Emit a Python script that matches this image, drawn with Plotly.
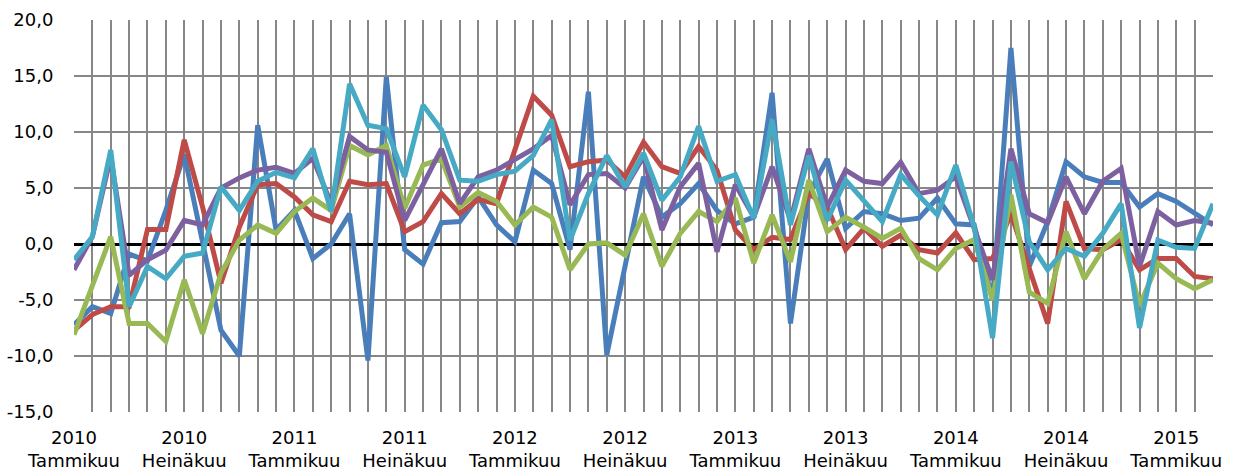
import plotly.graph_objects as go

years = [2010, 2011, 2012, 2013, 2014, 2015]
month_names = ["Tammikuu", "Helmikuu", "Maaliskuu", "Huhtikuu", "Toukokuu", "Kesäkuu",
               "Heinäkuu", "Elokuu", "Syyskuu", "Lokakuu", "Marraskuu", "Joulukuu"]
n_months = 63  # Jan 2010 .. Mar 2015
categories = [f"{2010 + k // 12}<br>{month_names[k % 12]}" for k in range(n_months)]

series1 = [-7.2, -5.6, -6.2, -0.9, -1.5, 3.0, 8.0, 0.3, -7.7, -10.0,
           10.6, 1.25, 3.0, -1.3, 0.0, 2.7, -10.4, 14.9, -0.5, -1.8,
           1.9, 2.0, 4.2, 1.7, 0.2, 6.6, 5.4, -0.5, 13.6, -9.9,
           -2.0, 6.0, 2.4, 3.6, 5.4, 3.0, 1.8, 2.4, 13.5, -7.1,
           4.5, 7.6, 1.4, 2.9, 2.7, 2.1, 2.3, 4.1, 1.8, 1.7,
           -5.0, 17.5, -2.0, 2.0, 7.35, 6.0, 5.5, 5.5, 3.3, 4.5,
           3.8, 2.7, 1.7]
series2 = [-7.7, -6.3, -5.6, -5.6, 1.3, 1.3, 9.3, 3.3, -3.5, 1.5,
           5.3, 5.4, 4.2, 2.6, 2.0, 5.6, 5.3, 5.4, 1.1, 2.0,
           4.5, 2.7, 4.0, 3.6, 8.4, 13.2, 11.5, 6.9, 7.35, 7.5,
           6.0, 9.1, 6.9, 6.3, 8.7, 6.6, 1.25, -0.5, 0.6, 0.4,
           4.5, 3.3, -0.5, 1.4, -0.2, 0.8, -0.5, -0.8, 1.0, -1.4,
           -1.3, 2.7, -2.2, -7.1, 3.8, -0.4, -0.5, 0.4, -2.3, -1.3,
           -1.3, -2.9, -3.1]
series3 = [-8.1, -3.8, 0.65, -7.1, -7.1, -8.7, -3.2, -8.0, -2.6, 0.35,
           1.7, 0.95, 2.9, 4.1, 3.0, 8.8, 7.95, 8.8, 3.2, 7.05,
           7.6, 3.3, 4.6, 3.8, 1.7, 3.3, 2.4, -2.3, 0.0, 0.1,
           -1.0, 2.7, -2.0, 0.95, 2.9, 2.0, 4.1, -1.7, 2.6, -1.6,
           5.7, 1.1, 2.4, 1.5, 0.5, 1.4, -1.3, -2.3, -0.4, 0.4,
           -5.0, 4.4, -4.3, -5.3, 1.1, -3.1, -0.5, 0.95, -5.5, -1.7,
           -3.1, -4.0, -3.2]
series4 = [-2.3, 0.65, 7.8, -2.8, -1.4, -0.55, 2.1, 1.7, 5.0, 5.9,
           6.6, 6.85, 6.3, 7.65, 3.6, 9.6, 8.4, 8.2, 2.1, 5.4,
           8.5, 3.6, 6.0, 6.6, 7.5, 8.5, 9.7, 3.5, 6.2, 6.3,
           5.0, 7.8, 1.25, 5.1, 7.2, -0.7, 5.3, 2.4, 6.9, 2.1,
           8.5, 3.3, 6.6, 5.6, 5.4, 7.3, 4.5, 4.8, 6.0, 1.5,
           -3.2, 8.5, 2.7, 1.9, 6.0, 2.7, 5.6, 6.75, -2.0, 2.9,
           1.7, 2.1, 1.85]
series5 = [-1.4, 0.65, 8.4, -5.6, -2.0, -3.1, -1.1, -0.8, 5.1, 3.0,
           5.6, 6.4, 5.9, 8.5, 2.9, 14.3, 10.6, 10.3, 6.0, 12.4,
           10.2, 5.7, 5.6, 6.2, 6.5, 7.9, 11.1, 0.35, 4.5, 7.9,
           5.1, 8.1, 3.9, 6.0, 10.5, 5.6, 6.2, 2.3, 11.1, 1.7,
           7.9, 2.1, 5.7, 3.9, 2.0, 6.2, 4.3, 2.6, 7.05, 1.5,
           -8.4, 7.35, 0.2, -2.3, -0.4, -1.1, 0.95, 3.6, -7.5, 0.35,
           -0.3, -0.4, 3.6]

y_ticks = [-15, -10, -5, 0, 5, 10, 15, 20]
y_ticktext = [f"{v:.1f}".replace(".", ",") for v in y_ticks]

colors = ["#4A7EBB", "#BE4B48", "#98B954", "#7D60A0", "#46AAC5"]
all_series = [series1, series2, series3, series4, series5]

x = list(range(n_months))
fig = go.Figure()
for s, c in zip(all_series, colors):
    fig.add_trace(go.Scatter(x=x, y=s, mode="lines",
                             line=dict(color=c, width=5), showlegend=False,
                             hoverinfo="skip"))

tickvals = x
ticktext = [categories[i] if i % 6 == 0 else "" for i in x]

font_family = "DejaVu Sans, Arial, sans-serif"
fig.update_layout(
    width=1237, height=476,
    margin=dict(l=74, r=24, t=20, b=64),
    paper_bgcolor="white", plot_bgcolor="white",
    font=dict(family=font_family, size=18, color="black"),
    showlegend=False,
)
fig.update_xaxes(
    range=[0, n_months - 1], tickvals=tickvals, ticktext=ticktext,
    showgrid=True, gridcolor="#878787", gridwidth=1.6,
    zeroline=False, showline=False, automargin=False,
    ticks="outside", ticklen=9, tickcolor="rgba(0,0,0,0)",
    tickangle=0, tickfont=dict(size=18, family=font_family, color="black"),
)
fig.update_yaxes(
    range=[-15, 20], tickvals=y_ticks, ticktext=y_ticktext,
    showgrid=True, gridcolor="#878787", gridwidth=1.6,
    zeroline=True, zerolinecolor="black", zerolinewidth=2.8,
    showline=False, automargin=False,
    ticks="outside", ticklen=16, tickcolor="rgba(0,0,0,0)",
    tickfont=dict(size=18, family=font_family, color="black"),
)

fig.write_html(
    "out.html",
    config={"displayModeBar": False},
    post_script="document.body.style.margin='0';document.body.style.padding='0';"
                "document.body.style.overflow='hidden';",
)
